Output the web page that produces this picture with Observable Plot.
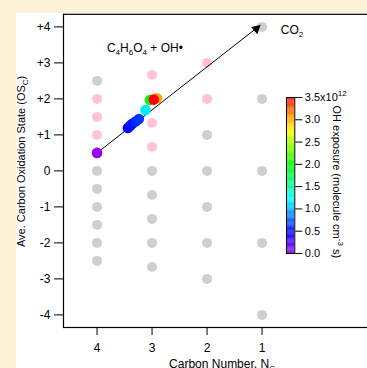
<!DOCTYPE html>
<html><head><meta charset="utf-8">
<script src="https://cdn.jsdelivr.net/npm/d3@7"></script>
<script src="https://cdn.jsdelivr.net/npm/@observablehq/plot@0.6"></script>
<style>
html,body{margin:0;padding:0}
body{width:367px;height:368px;overflow:hidden;position:relative;background:#fdf2d6;font-family:"Liberation Sans",Arial,sans-serif}
#panel{position:absolute;left:16px;top:13px;width:351px;height:355px;background:#fff;overflow:hidden}
#main{position:absolute;left:0;top:0;width:370px}
#cbar{position:absolute;left:269px;top:77px;width:85px}
#panel svg{max-width:none !important;height:auto}
</style></head>
<body><div id="panel"><div id="main"></div><div id="cbar"></div></div>
<script>
// formula space (gray: not observed, pink: possible products)
const grayNC = [4,4,4,4,4,4,4, 3,3,3,3,3, 2,2,2,2,2, 1,1,1,1,1];
const grayOS = [2.5,0,-0.5,-1,-1.5,-2,-2.5, 0,-0.667,-1.333,-2,-2.667, 1,0,-1,-2,-3, 4,2,0,-2,-4];
const pinkNC = [4,4,4, 3,3,3,3, 2,2];
const pinkOS = [2,1.5,1, 2.667,2,1.333,0.667, 3,2];
// measured average composition vs OH exposure (x10^12 molecule cm^-3 s)
const obsNC  = [4, 3.44, 3.40, 3.36, 3.30, 3.24, 3.12, 3.04, 2.91, 2.97];
const obsOS  = [0.5, 1.19, 1.25, 1.31, 1.37, 1.44, 1.69, 1.97, 2.02, 1.98];
const obsExp = [0.0, 0.42, 0.46, 0.5, 0.55, 0.6, 1.15, 2.0, 3.0, 3.5];
// arrow towards CO2
const arrowNC = [4, 1.03];
const arrowOS = [0.5, 4.05];
// tick values
const yTicks = [-4,-3,-2,-1,0,1,2,3,4];
const xTicks = [4,3,2,1];
const cTicks = [0,0.5,1,1.5,2,2.5,3,3.5];
// annotations
const noteText = ["C4H6O4 + OH•", "CO2"];
const noteNC = [3.82, 0.66];
const noteOS = [3.40, 3.90];

const font = '"Liberation Sans", Arial, sans-serif';
const colorScale = {type:"linear", domain:[0,3.5], interpolate: t => d3.hsl(275*(1-t),1,0.5).toString()};

const gray = grayNC.map((n,i)=>({n, os: grayOS[i]}));
const pink = pinkNC.map((n,i)=>({n, os: pinkOS[i]}));
const obs = obsNC.map((n,i)=>({n, os: obsOS[i], e: obsExp[i]}));
const notes = noteText.map((t,i)=>({t, n: noteNC[i], os: noteOS[i]}));

const main = Plot.plot({
  width: 370, height: 355,
  marginLeft: 47, marginRight: 4, marginTop: 0.8, marginBottom: 41,
  style: {fontSize: "12px", fontFamily: font, color: "black", background: "transparent", maxWidth: "none"},
  x: {domain: [4.61, -1.19], ticks: xTicks, tickSize: 8, tickPadding: 8, tickFormat: d => String(d), label: null},
  y: {domain: [-4.35, 4.35], ticks: yTicks, tickSize: 9, tickPadding: 4, tickFormat: d => d > 0 ? "+" + d : String(d), label: null},
  color: colorScale,
  marks: [
    Plot.frame({stroke: "black", strokeWidth: 1.2}),
    Plot.dot(gray, {x: "n", y: "os", r: 5, fill: "#cfcfcf"}),
    Plot.dot(pink, {x: "n", y: "os", r: 5, fill: "#ffc2da"}),
    Plot.link([0], {x1: () => arrowNC[0], y1: () => arrowOS[0], x2: () => arrowNC[1], y2: () => arrowOS[1], stroke: "black", strokeWidth: 1}),
    Plot.dot([0], {x: () => arrowNC[1], y: () => arrowOS[1], symbol: "triangle", r: 3.6, fill: "black", rotate: 49, dx: -4.1, dy: 3.6}),
    Plot.dot(obs, {x: "n", y: "os", r: 5.3, fill: "e"}),
    Plot.text(notes, {x: "n", y: "os", text: "t", textAnchor: "start", fontSize: 12, className: "note"}),
    Plot.text(["Carbon Number, NC"], {frameAnchor: "bottom", lineAnchor: "middle", dx: -1, dy: 37, textAnchor: "middle", fontSize: 12, className: "xlab"}),
    Plot.text(["Ave. Carbon Oxidation State (OSC)"], {frameAnchor: "left", lineAnchor: "middle", dx: -42, dy: -9.5, rotate: -90, textAnchor: "middle", fontSize: 11, className: "ylab"})
  ]
});
document.getElementById("main").appendChild(main);

const cbarData = d3.range(0, 3.5, 0.02);
const cbar = Plot.plot({
  width: 85, height: 185,
  marginLeft: 1, marginRight: 75.7, marginTop: 7, marginBottom: 22,
  style: {fontSize: "11px", fontFamily: font, color: "black", background: "transparent", overflow: "visible", maxWidth: "none"},
  x: {domain: [0, 1], axis: null},
  y: {domain: [0, 3.5], ticks: cTicks, axis: "right", tickSize: 7, tickPadding: 3, tickFormat: d => d === 3.5 ? "3.5x10" : d.toFixed(1), label: null},
  color: colorScale,
  marks: [
    Plot.rect(cbarData, {x1: 0, x2: 1, y1: d => d, y2: d => Math.min(3.5, d + 0.021), fill: d => d}),
    Plot.frame({stroke: "black", strokeWidth: 1}),
    Plot.text(["OH exposure (molecule cm-3 s)"], {frameAnchor: "top-right", dx: 46, dy: 8, rotate: 90, textAnchor: "start", fontSize: 11, className: "ctitle"})
  ]
});
document.getElementById("cbar").appendChild(cbar);

// rich text (sub/superscripts)
function rich(textEl, parts){
  const t = d3.select(textEl);
  t.text(null);
  let shift = 0;
  for (const [s, k] of parts){
    const target = k === 1 ? 3 : k === 2 ? -5 : 0;
    const sp = t.append("tspan").text(s).attr("dy", target - shift);
    if (k) sp.attr("font-size", "8px");
    shift = target;
  }
}
d3.select(main).selectAll(".note text").each(function(){
  const s = this.textContent;
  if (s.startsWith("C4")) rich(this, [["C",0],["4",1],["H",0],["6",1],["O",0],["4",1],[" + OH•",0]]);
  else rich(this, [["CO",0],["2",1]]);
});
d3.select(main).selectAll(".xlab text").each(function(){ rich(this, [["Carbon Number, N",0],["C",1]]); });
d3.select(main).selectAll(".ylab text").each(function(){ rich(this, [["Ave. Carbon Oxidation State (OS",0],["C",1],[")",0]]); });
d3.select(cbar).selectAll(".ctitle text").each(function(){ rich(this, [["OH exposure (molecule cm",0],["-3",2],[" s)",0]]); });
d3.select(cbar).selectAll("text").each(function(){
  if (this.textContent === "3.5x10") rich(this, [["3.5x10",0],["12",2]]);
});
</script></body></html>
